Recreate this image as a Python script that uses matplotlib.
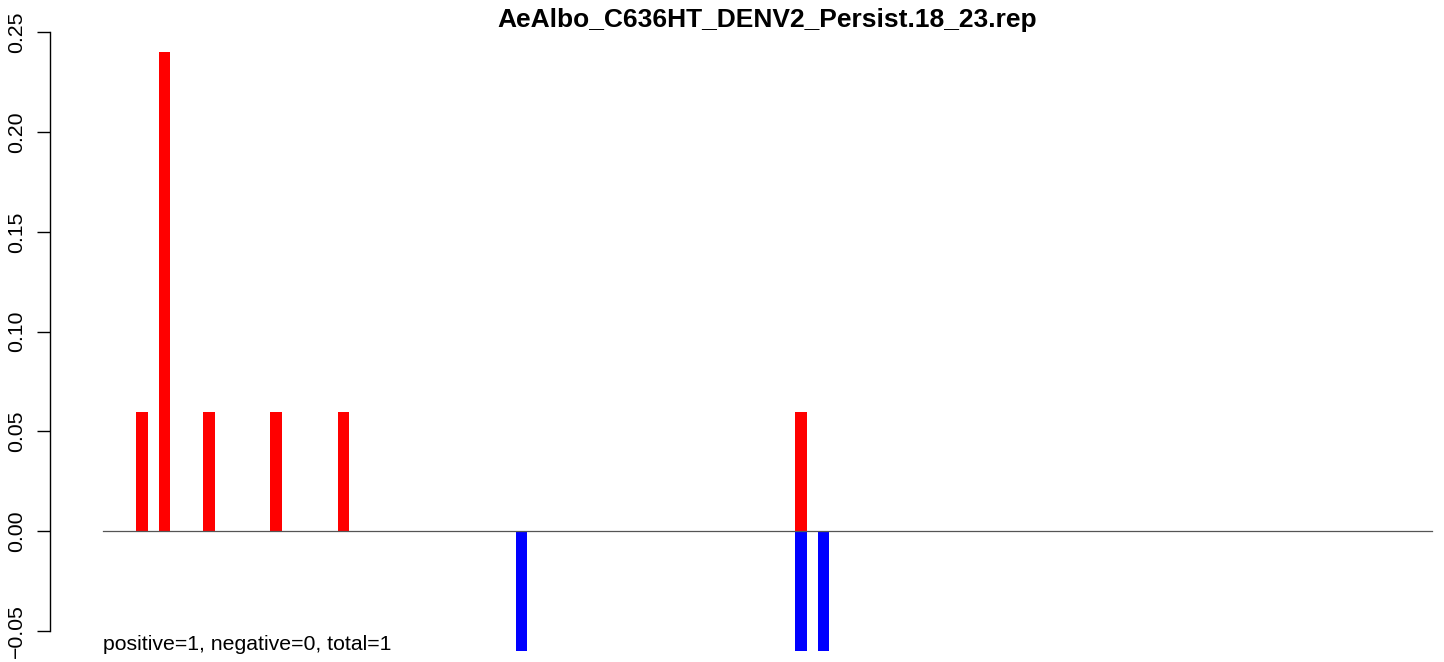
import matplotlib
matplotlib.use("Agg")
import matplotlib.pyplot as plt

plt.rcParams['font.family'] = ['Liberation Sans', 'DejaVu Sans']

title = "AeAlbo_C636HT_DENV2_Persist.18_23.rep"
note = "positive=1, negative=0, total=1"

# bar index (1-based, bar k spans [k-1, k]) and heights
pos_idx = [4, 6, 10, 16, 22, 63]
pos_val = [0.06, 0.24, 0.06, 0.06, 0.06, 0.06]
neg_idx = [38, 63, 65]
neg_val = [-0.06, -0.06, -0.06]
n_bins = 119

yticks = [-0.05, 0.00, 0.05, 0.10, 0.15, 0.20, 0.25]

W, H = 1444, 662
fig = plt.figure(figsize=(W / 100, H / 100), dpi=100)

# plot region as in R (partly outside the picture)
left_px, right_px = 49.8, 1485.2
top_px, bot_px = 28.3, 675.0
ax = fig.add_axes([left_px / W, 1 - bot_px / H,
                   (right_px - left_px) / W, (bot_px - top_px) / H])

xr = n_bins * 0.04
ax.set_xlim(-xr, n_bins + xr)
ax.set_ylim(-0.072, 0.252)

ax.bar([k - 0.5 for k in pos_idx], pos_val, width=1.0, color='#ff0000', linewidth=0)
ax.bar([k - 0.5 for k in neg_idx], neg_val, width=1.0, color='#0000ff', linewidth=0)
ax.plot([0, n_bins], [0, 0], color='#555555', linewidth=0.9)

for s in ['top', 'right', 'bottom']:
    ax.spines[s].set_visible(False)
ax.spines['left'].set_bounds(-0.05, 0.25)
ax.spines['left'].set_linewidth(1.0)
ax.set_xticks([])
ax.set_yticks(yticks)
ax.set_yticklabels(['\u22120.05' if v < 0 else f"{v:.2f}" for v in yticks],
                   rotation=90, va='center', fontsize=15.3)
ax.tick_params(axis='y', length=9.4, width=1.0, pad=7.5)

# title centred over the plot region, baseline just above it
fig.text((left_px + right_px) / 2 / W, 1 - 27 / H, title,
         ha='center', va='baseline', fontsize=19, fontweight='bold')
ax.text(0, -0.0595, note, ha='left', va='baseline', fontsize=15.3)

fig.savefig("out.png", dpi=100)
